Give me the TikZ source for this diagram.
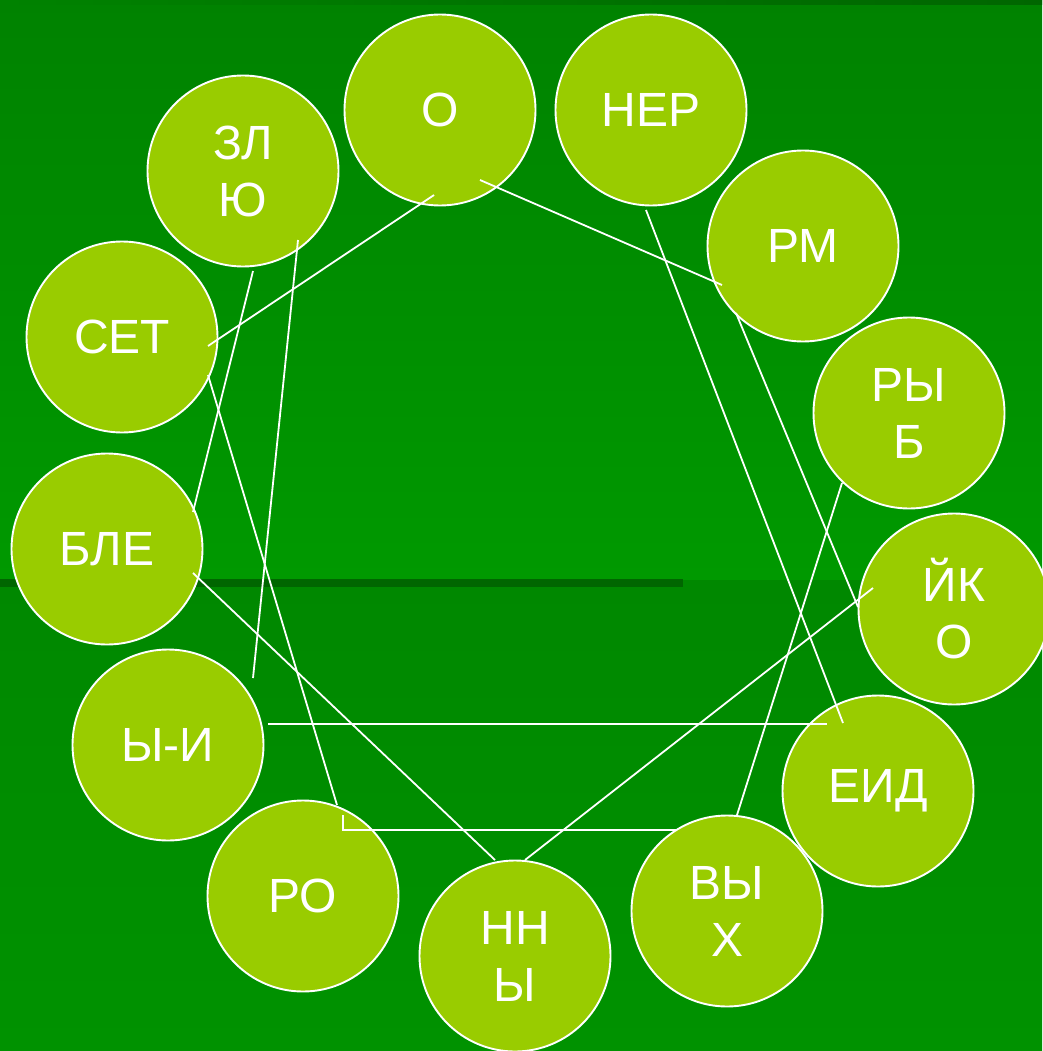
\documentclass[tikz,border=0pt]{standalone}
\usepackage{fontspec}
\setmainfont{Liberation Sans}
\begin{document}
\begin{tikzpicture}[x=1pt,y=-1pt,
  bub/.style={circle,draw=white,line width=1.9pt,fill=bubfill,minimum size=191pt,inner sep=0pt,
    text=white,font=\fontsize{48}{57}\selectfont,align=center},
  link/.style={draw=white,line width=1.8pt}]
\definecolor{bubfill}{RGB}{153,204,0}
\definecolor{topg}{RGB}{0,130,0}
\definecolor{midg}{RGB}{0,153,0}
\definecolor{lowg}{RGB}{0,136,0}
\definecolor{botg}{RGB}{0,146,0}
\definecolor{darkg}{RGB}{0,102,0}
\useasboundingbox (0,0) rectangle (1042,1051);
% background
\shade[top color=topg,bottom color=midg] (0,0) rectangle (1042,580);
\shade[top color=lowg,bottom color=botg] (0,580) rectangle (1042,1051);
\shade[left color=topg,right color=darkg] (0,0) rectangle (1042,4.5);
\fill[darkg] (0,579) rectangle (683,587);
% bubbles
\node[bub] (o)   at (440,110) {О};
\node[bub] (ner) at (651,110) {НЕР};
\node[bub] (zl)  at (243,171) {ЗЛ\\Ю};
\node[bub] (rm)  at (803,246) {РМ};
\node[bub] (set) at (122,337) {СЕТ};
\node[bub] (ryb) at (909,413) {РЫ\\Б};
\node[bub] (ble) at (107,549) {БЛЕ};
\node[bub] (jko) at (954,609) {ЙК\\О};
\node[bub] (yi)  at (168,745) {Ы-И};
\node[bub] (eid) at (878,791) {ЕИД};
\node[bub] (ro)  at (303,896) {РО};
\node[bub] (vyh) at (727,911) {ВЫ\\Х};
\node[bub] (nny) at (515,956) {НН\\Ы};
% link end points
\coordinate (o1) at (434,195);  \coordinate (set1) at (208,346);
\coordinate (o2) at (480,180);  \coordinate (rm1) at (722,285);
\coordinate (zl1) at (253,271); \coordinate (ble1) at (193,512);
\coordinate (zl2) at (298,240); \coordinate (yi1) at (253,678);
\coordinate (ner1) at (646,210); \coordinate (eid1) at (843,723);
\coordinate (rm2) at (736,313); \coordinate (jko1) at (858,607);
\coordinate (ryb1) at (842,483); \coordinate (vyh1) at (737,815);
\coordinate (jko2) at (873,588); \coordinate (nny1) at (525,860);
\coordinate (ble2) at (193,573); \coordinate (nny2) at (495,860);
\coordinate (yi2) at (268,724); \coordinate (eid2) at (827,724);
\coordinate (set2) at (208,375); \coordinate (ro1) at (337,805);
\coordinate (ro2) at (343,815); \coordinate (ro3) at (343,830);
\coordinate (vyh2) at (676,830);
% links
\draw[link] (o1) -- (set1);
\draw[link] (o2) -- (rm1);
\draw[link] (zl1) -- (ble1);
\draw[link] (zl2) -- (yi1);
\draw[link] (ner1) -- (eid1);
\draw[link] (rm2) -- (jko1);
\draw[link] (ryb1) -- (vyh1);
\draw[link] (jko2) -- (nny1);
\draw[link] (ble2) -- (nny2);
\draw[link] (yi2) -- (eid2);
\draw[link] (set2) -- (ro1);
\draw[link] (ro2) -- (ro3) -- (vyh2);
\end{tikzpicture}
\end{document}
